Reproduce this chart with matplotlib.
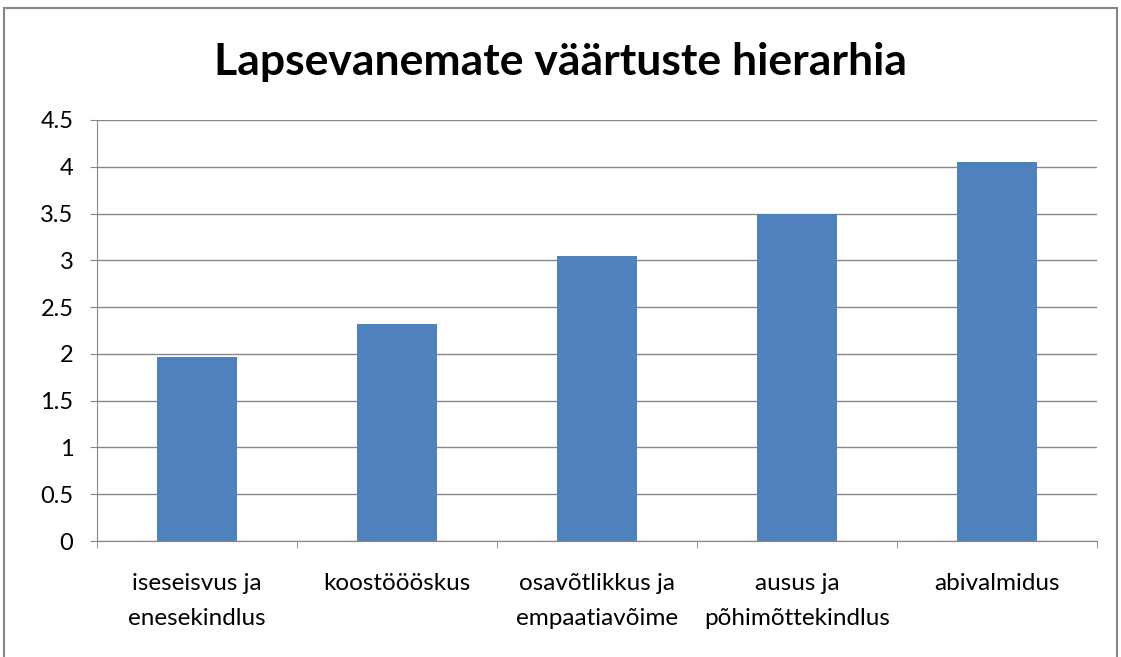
import matplotlib
matplotlib.use("Agg")
import matplotlib.pyplot as plt
from matplotlib.patches import Rectangle
import numpy as np

categories = ["iseseisvus ja\nenesekindlus", "koostöööskus", "osavõtlikkus ja\nempaatiavõime",
              "ausus ja\npõhimõttekindlus", "abivalmidus"]
values = [1.97, 2.32, 3.05, 3.50, 4.05]
yticks = [0, 0.5, 1, 1.5, 2, 2.5, 3, 3.5, 4, 4.5]
ytick_labels = ["0", "0.5", "1", "1.5", "2", "2.5", "3", "3.5", "4", "4.5"]
title = "Lapsevanemate väärtuste hierarhia"

plt.rcParams['font.family'] = ['Lato', 'DejaVu Sans']
W, H = 1121, 657
fig = plt.figure(figsize=(W / 100, H / 100), dpi=100)
fig.patches.append(Rectangle((4 / W, -0.01), 1113 / W, (H - 8) / H + 0.01,
                             transform=fig.transFigure, fill=False,
                             edgecolor="#868686", linewidth=1.5))
ax = fig.add_axes([97 / W, (H - 541) / H, 1000 / W, 421 / H])
x = np.arange(len(categories))
ax.bar(x, values, width=0.4, color="#4F81BD", zorder=3)
ax.set_xlim(-0.5, len(categories) - 0.5)
ax.set_ylim(0, 4.5)
ax.set_yticks(yticks)
ax.set_yticklabels(ytick_labels, fontsize=17)
ax.grid(axis="y", color="#868686", linewidth=1, zorder=0)
ax.set_xticks(x)
ax.set_xticklabels(categories, fontsize=17.5, linespacing=1.8, va="top")
ax.tick_params(axis="x", length=0, pad=23)
ax.set_xticks(np.arange(-0.5, len(categories)), minor=True)
ax.tick_params(axis="x", which="minor", length=5, color="#868686")
ax.tick_params(axis="y", length=5, color="#868686", pad=12)
for s in ["top", "right"]:
    ax.spines[s].set_visible(False)
for s in ["left", "bottom"]:
    ax.spines[s].set_color("#868686")
fig.text(0.5, (H - 62) / H, title, ha="center", va="center", fontsize=32, fontweight="bold")
fig.savefig("out.png", dpi=100)
